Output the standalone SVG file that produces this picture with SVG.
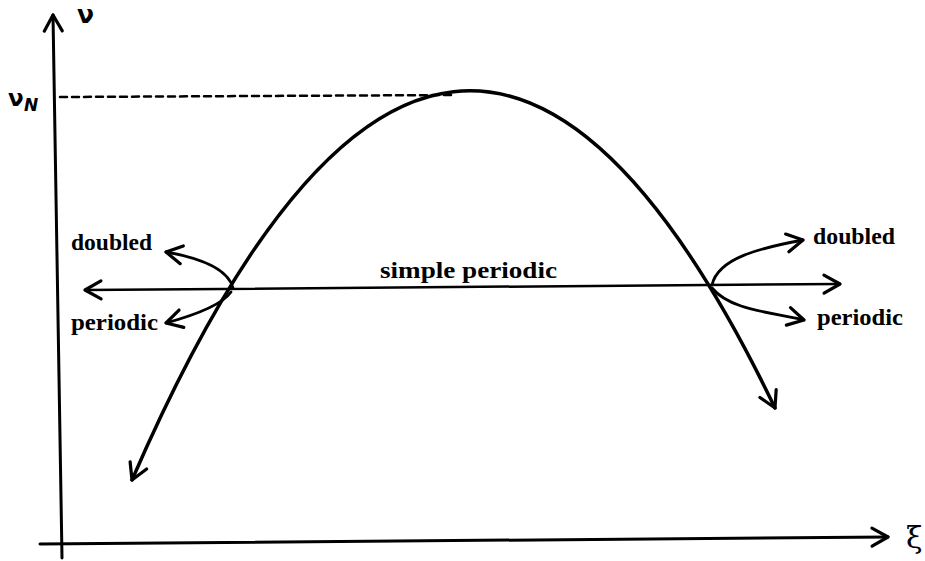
<svg xmlns="http://www.w3.org/2000/svg" width="925" height="561" viewBox="0 0 925 561">
<style>
.ln{fill:none;stroke:#000;stroke-linecap:round;stroke-linejoin:round}
.t{font-family:"Liberation Serif","Times New Roman",serif;font-weight:bold;font-size:24px;fill:#000}
.g{font-family:"DejaVu Sans","Noto Sans",sans-serif;font-weight:bold;fill:#000}
</style>
<defs>
<marker id="ch" viewBox="0 0 24 24" refX="21" refY="12" markerWidth="24" markerHeight="24" markerUnits="userSpaceOnUse" orient="auto-start-reverse">
<path d="M5,3 L21,12 L5,21" fill="none" stroke="#000" stroke-width="3.2" stroke-linecap="round" stroke-linejoin="round"/>
</marker>
</defs>
<rect width="925" height="561" fill="#fff"/>
<g id="connectors">
<path id="y-axis" class="ln" stroke-width="3" d="M62,558 L53,15" marker-end="url(#ch)"/>
<path id="x-axis" class="ln" stroke-width="3" d="M40,544 L888,537" marker-end="url(#ch)"/>
<path id="dash" class="ln" stroke-width="2.5" stroke-dasharray="7,5" stroke-linecap="butt" d="M60,97 L455,95"/>
<path id="curve" class="ln" stroke-width="3.5" d="M132,480 Q453.5,-260.7 775,408" marker-start="url(#ch)" marker-end="url(#ch)"/>
<path id="hline" class="ln" stroke-width="2.5" d="M85,290 L840,284" marker-start="url(#ch)" marker-end="url(#ch)"/>
<path class="ln" stroke-width="2.8" d="M233,288 C228,268 200,258 166,252" marker-end="url(#ch)"/>
<path class="ln" stroke-width="2.8" d="M231,292 C222,305 195,315 166,323" marker-end="url(#ch)"/>
<path class="ln" stroke-width="2.8" d="M712,285 C718,258 760,248 803,240" marker-end="url(#ch)"/>
<path class="ln" stroke-width="2.8" d="M712,288 C730,310 770,312 804,320" marker-end="url(#ch)"/>
</g>
<g id="labels">
<text class="g" x="77" y="23" font-size="25">ν</text>
<text class="g" x="8" y="106" font-size="23">ν</text>
<text class="g" x="24" y="111" font-size="17" font-style="italic" font-weight="normal">N</text>
<text x="906" y="548" font-size="30" font-family="DejaVu Serif,serif">ξ</text>
<text class="t" x="71" y="250" textLength="81" lengthAdjust="spacingAndGlyphs">doubled</text>
<text class="t" x="71" y="330" textLength="87" lengthAdjust="spacingAndGlyphs">periodic</text>
<text class="t" x="813" y="244" textLength="82" lengthAdjust="spacingAndGlyphs">doubled</text>
<text class="t" x="817" y="325" textLength="86" lengthAdjust="spacingAndGlyphs">periodic</text>
<text class="t" x="380" y="278" textLength="177" lengthAdjust="spacingAndGlyphs">simple periodic</text>
</g>
</svg>
